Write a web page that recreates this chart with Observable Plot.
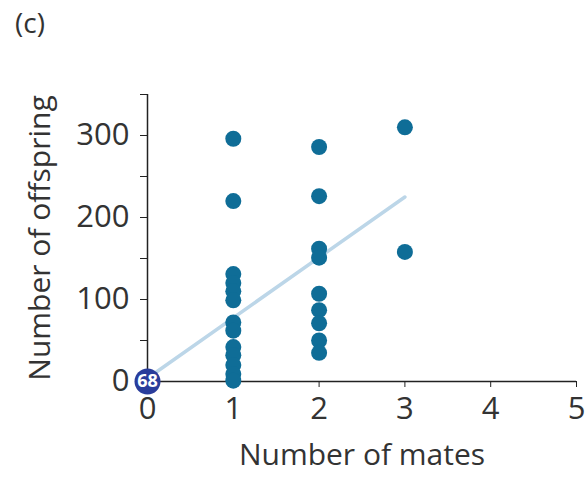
<!DOCTYPE html>
<html><head><meta charset="utf-8">
<script src="https://cdn.jsdelivr.net/npm/d3@7"></script>
<script src="https://cdn.jsdelivr.net/npm/@observablehq/plot@0.6"></script>
<style>
body{margin:0;background:#fff;font-family:"Open Sans",sans-serif;}
#wrap{position:relative;width:587px;height:478px;}
#tag{position:absolute;left:15px;top:3px;font-size:28px;color:#333;}
#chart{position:absolute;left:0;top:60px;}
</style></head><body>
<div id="wrap"><div id="tag">(c)</div><div id="chart"></div></div>
<script>
const mates = [1,1,1,1,1,1,1,1,1,1,1,1,1, 2,2,2,2,2,2,2,2,2, 3,3];
const offspring = [296,220,131,120,110,99,72,62,42,32,20,9,1, 286,226,162,151,107,87,71,50,35, 310,158];
const zeroCount = ["68"];
const zeroX = [0], zeroY = [0];
const fitX = [0,3], fitY = [4,225];
const xTicks = [0,1,2,3,4,5];
const yTicks = [0,100,200,300];
const yMinor = [50,150,250,350];

const pts = mates.map((m,i)=>({x:m,y:offspring[i]}));
const fit = fitX.map((x,i)=>({x,y:fitY[i]}));
const zero = zeroX.map((x,i)=>({x,y:zeroY[i],t:zeroCount[i]}));

const chart = Plot.plot({
  width:587, height:418,
  marginLeft:147, marginRight:11, marginTop:34, marginBottom:97,
  x:{domain:[0,5]}, y:{domain:[0,350]},
  style:{fontFamily:"Open Sans, sans-serif", color:"#333", background:"transparent", overflow:"visible"},
  marks:[
    Plot.ruleX([0],{y1:0,y2:350,stroke:"#222",strokeWidth:1.5}),
    Plot.ruleY([0],{x1:0,x2:5,stroke:"#222",strokeWidth:1.5}),
    Plot.axisY({ticks:yTicks, tickSize:7, tickPadding:11, fontSize:31, label:null, stroke:"#222", tickFormat:"d"}),
    Plot.axisY({ticks:yMinor, tickSize:7, text:null, label:null, stroke:"#222"}),
    Plot.axisX({ticks:xTicks, tickSize:6, tickPadding:9, fontSize:31, label:null, stroke:"#222", tickFormat:"d"}),
    Plot.text(["Number of mates"],{frameAnchor:"bottom", dy:74, lineAnchor:"middle", fontSize:30, fill:"#333"}),
    Plot.text(["Number of offspring"],{frameAnchor:"left", dx:-107, textAnchor:"middle", lineAnchor:"middle", rotate:-90, fontSize:30, fill:"#333"}),
    Plot.line(fit,{x:"x",y:"y",stroke:"#bcd6e8",strokeWidth:3.5}),
    Plot.dot(pts,{x:"x",y:"y",r:8,fill:"#0f6d97"}),
    Plot.dot(zero,{x:"x",y:"y",r:13,fill:"#2a3d9b"}),
    Plot.text(zero,{x:"x",y:"y",text:"t",fill:"#fff",fontSize:18,fontWeight:"bold"})
  ]
});
document.getElementById("chart").appendChild(chart);
</script></body></html>
